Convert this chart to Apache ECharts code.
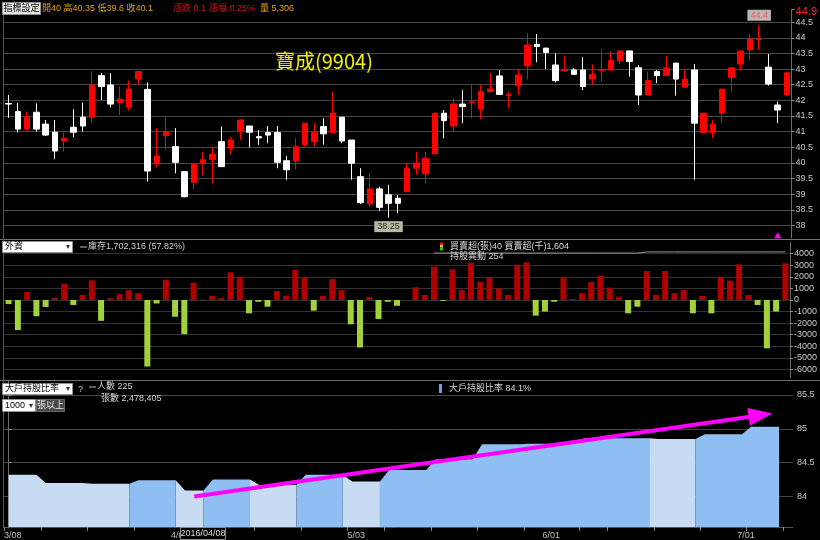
<!DOCTYPE html>
<html><head><meta charset="utf-8">
<script src="https://cdn.jsdelivr.net/npm/echarts@6/dist/echarts.min.js"></script>
<style>html,body{margin:0;padding:0;background:#000;}#c{width:820px;height:540px;}</style>
</head><body><div id="c"></div>
<script>
// ---------- DATA ----------
const dates = ['3/08','3/09','3/10','3/11','3/14','3/15','3/16','3/17','3/18','3/21','3/22','3/23','3/24','3/25','3/28','3/29','3/30','3/31',
 '4/01','4/06','4/07','4/08','4/11','4/12','4/13','4/14','4/15','4/18','4/19','4/20','4/21','4/22','4/25','4/26','4/27','4/28','4/29',
 '5/03','5/04','5/05','5/06','5/09','5/10','5/11','5/12','5/13','5/16','5/17','5/18','5/19','5/20','5/23','5/24','5/25','5/26','5/27','5/30','5/31',
 '6/01','6/02','6/03','6/04','6/06','6/07','6/08','6/13','6/14','6/15','6/16','6/17','6/20','6/21','6/22','6/23','6/24','6/27','6/28','6/29','6/30',
 '7/01','7/04','7/05','7/06','7/07','7/11'];
const opens = [41.90,41.64,41.08,41.62,41.24,40.98,40.70,41.14,41.46,41.46,
 42.79,42.49,41.93,41.78,42.68,42.35,39.97,40.87,40.52,39.72,
 39.38,40.00,40.10,40.68,40.47,41.02,41.18,40.84,40.97,40.97,
 40.07,40.07,40.58,40.68,41.16,40.97,41.46,40.73,39.56,38.69,
 39.17,38.98,38.87,39.08,39.83,39.65,40.29,41.59,41.18,41.88,
 41.92,41.72,42.28,42.78,42.15,42.47,43.10,43.79,43.67,43.13,
 42.94,42.97,42.97,42.68,42.96,42.97,43.27,43.58,43.04,42.17,
 42.92,42.79,43.19,42.42,42.97,40.97,40.98,41.59,42.73,43.16,
 43.61,43.94,43.06,41.85,42.17];
const closes = [41.88,41.08,41.46,41.08,40.89,40.38,40.79,40.98,41.18,42.49,
 42.44,41.88,42.04,42.36,42.92,39.74,40.22,41.00,40.02,38.92,
 39.97,40.10,40.28,39.88,40.73,41.37,40.98,40.80,40.89,40.02,
 39.78,40.52,41.27,40.98,40.93,41.59,40.70,39.99,38.73,39.17,
 38.58,38.71,38.71,39.83,39.99,40.15,41.59,41.35,41.88,41.80,
 41.95,42.28,42.36,42.19,42.18,42.81,43.77,43.72,43.53,42.63,
 42.96,42.83,42.44,42.83,42.98,43.27,43.58,43.24,42.17,42.63,
 42.79,43.04,42.68,42.68,41.27,41.59,41.24,42.36,43.04,43.58,
 43.96,43.96,42.52,41.69,42.88];
const lows = [41.44,40.97,41.03,41.00,40.86,40.12,40.36,40.82,41.00,41.29,
 42.01,41.77,41.53,41.67,42.49,39.40,39.86,40.42,39.67,38.90,
 39.14,39.60,39.35,39.88,40.26,40.73,40.50,40.58,40.63,39.83,
 39.46,39.80,40.52,40.52,40.58,40.97,40.63,39.46,38.69,38.60,
 38.47,38.25,38.39,39.08,39.62,39.35,40.29,40.79,41.00,41.27,
 41.43,41.40,42.28,42.19,41.75,42.17,42.67,43.22,43.00,42.57,
 42.92,42.81,42.33,42.49,42.60,42.97,43.16,42.76,41.85,42.17,
 42.55,42.79,42.15,42.42,39.46,40.97,40.79,41.27,42.28,42.95,
 43.29,43.61,42.47,41.27,42.17];
const highs = [42.17,41.92,41.64,41.90,41.37,41.37,40.97,41.72,41.93,42.92,
 42.87,42.87,42.44,42.63,42.92,42.57,41.11,41.45,41.11,39.72,
 39.97,40.35,40.50,41.16,40.84,41.40,41.18,41.05,41.18,41.18,
 40.22,40.79,41.27,41.27,41.43,42.28,41.46,40.73,39.83,39.67,
 39.24,39.30,38.98,39.99,40.36,40.36,41.59,41.69,42.07,42.33,
 42.49,42.49,42.87,42.97,42.28,42.97,44.14,44.12,43.67,43.50,
 43.42,43.03,43.38,43.15,43.63,43.56,43.58,43.58,43.13,42.92,
 42.97,43.42,43.19,42.99,43.16,41.59,41.37,42.36,43.04,43.58,
 44.12,44.40,43.48,41.96,42.88];
// foreign investors net buy/sell (張)
const foreignNet = [-350,-2600,700,-1400,-600,200,1400,-430,430,1700,
 -1800,150,500,850,580,-5750,-300,1750,-1450,-2950,
 1500,40,350,150,2400,2000,-1150,-150,-580,780,
 370,2600,1950,-920,350,1800,860,-2100,-4100,260,
 -1650,-150,-500,0,1100,430,2870,-80,2650,860,
 3230,1580,1930,1000,430,3030,3260,-1350,-1000,-150,
 1950,80,580,1550,2070,1070,290,-1150,-580,2500,
 430,2500,580,860,-1150,350,-1150,2000,1670,3080,
 430,-430,-4180,-1000,3170];
// foreign inventory line (visible part, from index 46)
const inventoryStart = 46;
const inventory = [1700500,1700500,1700500,1700500,1700500,1700500,1700500,1700500,1700500,1700500,
 1700500,1700500,1700500,1700500,1700500,1700500,1700500,1700500,1700500,1700500,
 1700500,1700500,1700500,1702316,1702316,1702316,1702316,1702316,1702316,1702316,
 1702316,1702316,1702316,1702316,1702316,1702316,1702316,1702316,1702316];
// big holders ratio (weekly)
const weekStarts = [0,4,9,14,19,22,27,32,37,41,46,51,56,62,65,70,75,80,84];
const weekHold   = [84.32,84.20,84.19,84.24,84.09,84.25,84.17,84.32,84.22,84.39,84.55,84.77,84.78,84.86,84.86,84.85,84.92,85.03,null];
const weekUp     = [0,0,0,1,0,1,0,1,0,1,1,1,1,1,1,0,1,1,0];
const monthStarts = [0,18,37,58,79];

// ---------- BUILD ----------
const FONT = '"Liberation Sans","Noto Sans CJK TC",sans-serif';
const weekOf = i => { let w = 0; while (w + 1 < weekStarts.length && weekStarts[w + 1] <= i) w++; return w; };
function holdData(flag) {
  return dates.map((d, i) => {
    const w = weekOf(i), v = weekHold[w];
    if (v == null) return null;
    if (weekUp[w] === flag) return v;
    if (i + 1 < dates.length) {
      const nw = weekOf(i + 1);
      if (nw !== w && weekHold[nw] != null && weekUp[nw] === flag) return v;
    }
    return null;
  });
}
const candle = dates.map((d, i) => [opens[i], closes[i], lows[i], highs[i]]);
const invData = dates.map((d, i) => (i >= inventoryStart ? inventory[i - inventoryStart] : null));

const gridL = 4, gridR = 27;
const xBase = (gi, extra) => Object.assign({
  type: 'category', gridIndex: gi, data: dates, boundaryGap: true,
  axisLine: { show: false }, axisTick: { show: false }, axisLabel: { show: false }, splitLine: { show: false }
}, extra || {});
const yBase = (gi, extra) => Object.assign({
  type: 'value', gridIndex: gi, position: 'right', scale: true,
  axisLine: { show: true, lineStyle: { color: '#6a6a6a' } },
  axisTick: { show: true, length: 3, lineStyle: { color: '#8a8a8a' } },
  axisLabel: { color: '#c8c8c8', fontSize: 9, fontFamily: FONT, margin: 4, showMinLabel: false, showMaxLabel: false, formatter: v => String(v) },
  splitLine: { show: true, showMinLine: false, showMaxLine: false, lineStyle: { color: '#474747', width: 1 } }
}, extra || {});

const T = (x, y, text, fill, size, extra) => ({
  type: 'text', x, y, z: 100, silent: true,
  style: Object.assign({ text, fill, font: (size || 9) + 'px ' + FONT, verticalAlign: 'middle' }, extra || {})
});
const R = (x, y, w, h, fill, stroke) => ({
  type: 'rect', z: 99, silent: true, shape: { x, y, width: w, height: h },
  style: { fill, stroke: stroke || null, lineWidth: 1 }
});
const L = (x1, y1, x2, y2, color, w) => ({
  type: 'line', z: 98, silent: true, shape: { x1, y1, x2, y2 }, style: { stroke: color, lineWidth: w || 1 }
});

const graphic = [
  // panel separators
  L(0, 239.5, 820, 239.5, '#707070'), L(0, 380.5, 820, 380.5, '#707070'), L(3.5, 10, 3.5, 528, '#555'),
  // top toolbar
  R(2.5, 2.5, 38, 12, '#e4e4e4', '#909090'), T(21.5, 9, '指標設定', '#000', 9, { align: 'center' }),
  T(42, 8.5, '開40 高40.35 低39.6 收40.1', '#e6a21a'),
  T(173, 8.5, '漲跌 0.1', '#d01818'), T(209, 8.5, '漲幅 0.25%', '#d01818'), T(260, 8.5, '量 5,306', '#e6a21a'),
  // middle header
  R(2.5, 241.5, 70, 11, '#ffffff', '#909090'), L(62.5, 242, 62.5, 252, '#aaa'),
  T(5, 247, '外資', '#000'), T(67.5, 247, '▾', '#333', 8, { align: 'center' }),
  L(80, 247, 87, 247, '#bbb'), T(88, 247, '庫存1,702,316 (57.82%)', '#d0d0d0'),
  R(440, 242.5, 3, 2.5, '#e02020'), R(440, 245, 3, 2.5, '#e0c020'), R(440, 247.5, 3, 3, '#30c030'),
  T(450, 246.5, '買賣超(張)40 買賣超(千)1,604', '#d8d8d8'), T(450, 257, '持股異動 254', '#d8d8d8'),
  // bottom header
  R(2.5, 383.5, 70, 11, '#ffffff', '#909090'), L(62.5, 384, 62.5, 394, '#aaa'),
  T(5, 389, '大戶持股比率', '#000'), T(67.5, 389, '▾', '#333', 8, { align: 'center' }),
  T(78, 390, '?', '#c8c8c8'),
  L(89, 387, 96, 387, '#bbb'), T(97, 387, '人數 225', '#d0d0d0'),
  T(101, 399, '張數 2,478,405', '#d0d0d0'),
  R(2.5, 399.5, 33, 12, '#ffffff', '#909090'), T(5, 405.5, '1000', '#000'), T(31, 405.5, '▾', '#333', 8, { align: 'center' }),
  R(36.5, 399.5, 28, 12, '#4a4a4a', '#666'), T(50.5, 405.5, '張以上', '#e8e8e8', 9, { align: 'center' }),
  R(439, 384, 3, 9, '#6e9fe0'), T(449, 389, '大戶持股比率 84.1%', '#d8d8d8'),
  // cursor date box
  R(180.5, 527.5, 45, 12, '#000', '#8a8a8a'), T(203, 534, '2016/04/08', '#d8d8d8', 9, { align: 'center' })
];

const option = {
  backgroundColor: '#000',
  animation: false,
  title: { text: '寶成(9904)', left: 270, top: 46, textStyle: { color: '#f2f200', fontSize: 20, fontWeight: 'normal', fontFamily: '"Noto Sans CJK TC",sans-serif' } },
  grid: [
    { left: gridL, right: gridR, top: 9.6, height: 228.4 },
    { left: gridL, right: gridR, top: 242.15, height: 135.95 },
    { left: gridL, right: gridR, top: 380, height: 147.6 }
  ],
  xAxis: [
    xBase(0), xBase(1),
    xBase(2, { axisLine: { show: true, lineStyle: { color: '#555' } } }),
    {
      type: 'value', gridIndex: 2, min: -0.5, max: dates.length - 0.5, position: 'bottom',
      axisLine: { show: false }, splitLine: { show: false },
      axisTick: { show: true, length: 4, customValues: weekStarts.map(i => i - 0.5), lineStyle: { color: '#888' } },
      axisLabel: { show: true, color: '#c0c0c0', fontSize: 9, fontFamily: FONT, align: 'left', margin: 4,
        customValues: monthStarts.map(i => i - 0.5), formatter: v => dates[Math.round(v + 0.5)] || '' }
    }
  ],
  yAxis: [
    yBase(0, { min: 37.6, max: 44.9, splitNumber: 14,
      axisLabel: { color: '#c8c8c8', fontSize: 9, fontFamily: FONT, margin: 4, showMinLabel: false, showMaxLabel: true,
        formatter: v => (v >= 44.9 ? '{r|' + v + '}' : String(v)),
        rich: { r: { color: '#ff2424', fontSize: 11, fontFamily: FONT, padding: [4, 0, 0, 0] } } } }),
    yBase(1, { min: -6750, max: 5000, splitNumber: 12, splitLine: { show: true, showMinLine: false, showMaxLine: false, lineStyle: { color: '#333' } } }),
    { type: 'value', gridIndex: 1, min: 1500000, max: 1718000, show: false, splitLine: { show: false } },
    yBase(2, { min: 83.55, max: 85.72, splitNumber: 4, splitLine: { show: true, showMinLine: false, showMaxLine: false, lineStyle: { color: '#444' } } })
  ],
  series: [
    {
      type: 'candlestick', xAxisIndex: 0, yAxisIndex: 0, data: candle, barWidth: 6,
      itemStyle: { color: '#ff0000', color0: '#ffffff', borderColor: '#ff0000', borderColor0: '#ffffff', borderWidth: 1 },
      markPoint: {
        silent: true,
        data: [
          { coord: [41, 38.25], symbol: 'circle', symbolSize: 1, itemStyle: { color: 'rgba(0,0,0,0)' },
            label: { show: true, position: 'bottom', distance: 3, formatter: '38.25', color: '#2a2a2a', fontSize: 9, fontFamily: FONT,
              backgroundColor: '#b2baa0', padding: [1, 3] } },
          { coord: [81, 44.4], symbol: 'circle', symbolSize: 1, itemStyle: { color: 'rgba(0,0,0,0)' },
            label: { show: true, position: 'top', distance: 4, formatter: '44.4', color: '#e85a6a', fontSize: 9, fontFamily: FONT,
              backgroundColor: '#bdb6b0', padding: [1, 3] } },
          { coord: [83, 37.69], symbol: 'triangle', symbolSize: [7, 6], itemStyle: { color: '#ff00ff' }, label: { show: false } }
        ]
      }
    },
    {
      type: 'bar', xAxisIndex: 1, yAxisIndex: 1, data: foreignNet, barWidth: 6,
      itemStyle: { color: p => (p.value >= 0 ? '#b00000' : '#a3d13c') }
    },
    {
      type: 'line', xAxisIndex: 1, yAxisIndex: 2, data: invData, showSymbol: false, silent: true,
      lineStyle: { color: '#9a9a9a', width: 1 }
    },
    {
      type: 'line', xAxisIndex: 2, yAxisIndex: 3, data: holdData(0), showSymbol: false, silent: true, connectNulls: false,
      lineStyle: { width: 0 }, itemStyle: { color: '#c7dcf3' }, areaStyle: { color: '#c7dcf3', opacity: 1, origin: 'start' }
    },
    {
      type: 'line', xAxisIndex: 2, yAxisIndex: 3, data: holdData(1), showSymbol: false, silent: true, connectNulls: false,
      lineStyle: { width: 0 }, itemStyle: { color: '#8fbef2' }, areaStyle: { color: '#8fbef2', opacity: 1, origin: 'start' },
      markLine: {
        silent: true, symbol: ['none', 'triangle'], symbolSize: [18, 24], animation: false,
        lineStyle: { color: '#ff00ff', width: 4, type: 'solid' }, label: { show: false },
        emphasis: { disabled: true },
        data: [[{ coord: [20, 84.0] }, { coord: [81, 85.2] }]]
      }
    }
  ],
  graphic
};
echarts.init(document.getElementById('c')).setOption(option);
</script></body></html>
